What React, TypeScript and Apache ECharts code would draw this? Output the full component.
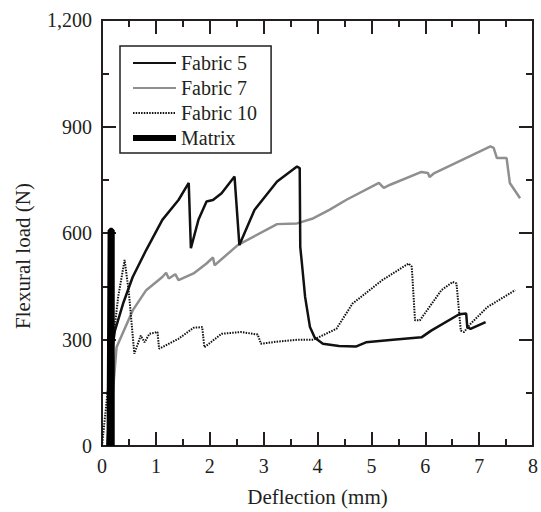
import React, { useEffect, useRef } from "react";
import * as echarts from "echarts";

const seriesNames = ["Fabric 5", "Fabric 7", "Fabric 10", "Matrix"];

const fabric5: [number, number][] = [
  [0.1, 0], [0.2, 285], [0.24, 325], [0.4, 405], [0.57, 476], [0.82, 552], [1.12, 637],
  [1.42, 693], [1.61, 741], [1.65, 557], [1.79, 637], [1.94, 689], [2.06, 693],
  [2.22, 712], [2.46, 759], [2.55, 566], [2.83, 665], [3.25, 745], [3.62, 787],
  [3.67, 783], [3.68, 561], [3.72, 500], [3.77, 420], [3.86, 335], [3.95, 305],
  [4.1, 288], [4.4, 282], [4.71, 280], [4.9, 292], [5.4, 299], [5.93, 306],
  [6.11, 325], [6.63, 371], [6.76, 373], [6.78, 335], [6.84, 330], [7.12, 349],
];

const fabric7: [number, number][] = [
  [0.12, 0], [0.27, 278], [0.57, 382], [0.82, 439], [1.12, 476], [1.19, 488],
  [1.24, 472], [1.36, 484], [1.42, 467], [1.7, 486], [1.94, 514], [2.06, 531],
  [2.09, 509], [2.52, 566], [3.25, 625], [3.62, 627], [3.9, 640], [4.22, 665],
  [4.53, 693], [5.14, 741], [5.23, 727], [5.35, 736], [5.93, 772], [6.05, 769],
  [6.08, 758], [6.17, 769], [7.21, 844], [7.27, 840], [7.33, 811], [7.51, 811],
  [7.57, 741], [7.76, 698],
];

const fabric10: [number, number][] = [
  [0, 0], [0.15, 220], [0.3, 420], [0.42, 524], [0.5, 430], [0.6, 260], [0.72, 311],
  [0.79, 292], [0.88, 316], [1.03, 321], [1.06, 274], [1.42, 302], [1.7, 333],
  [1.86, 335], [1.9, 278], [2.22, 316], [2.58, 321], [2.89, 314], [2.95, 288],
  [3.25, 294], [3.62, 299], [3.92, 299], [4.35, 330], [4.65, 401], [5.2, 467],
  [5.69, 514], [5.75, 505], [5.81, 354], [5.9, 354], [6.3, 439], [6.51, 462],
  [6.58, 458], [6.66, 325], [6.72, 321], [6.84, 344], [7.15, 391], [7.67, 439],
];

const matrix: [number, number][] = [
  [0.13, 0], [0.15, 608], [0.19, 608], [0.19, 0],
];

const FONT = "Liberation Serif";
const INK = "#231f20";

const mkAxisParts = () => ({
  axisLine: { show: true, onZero: false, lineStyle: { color: INK, width: 2 } },
  axisTick: { show: true, inside: true, length: 14, lineStyle: { color: INK, width: 2 } },
  minorTick: { show: true, splitNumber: 2, length: 7, lineStyle: { color: INK, width: 2 } },
  splitLine: { show: false },
});

const mkLabel = () => ({ fontFamily: FONT, fontSize: 20, color: INK, margin: 10 });

export default function App() {
  const ref = useRef<HTMLDivElement>(null);
  useEffect(() => {
    if (!ref.current) return;
    const chart = echarts.init(ref.current, undefined, { renderer: "svg" });
    chart.setOption({
      animation: false,
      backgroundColor: "#fff",
      textStyle: { fontFamily: FONT, color: INK },
      grid: { left: 102, right: 1, top: 20, bottom: 66, show: true, borderColor: INK, borderWidth: 2, backgroundColor: "transparent" },
      legend: {
        orient: "vertical",
        left: 120,
        top: 46,
        data: [
          { name: seriesNames[0] },
          { name: seriesNames[1] },
          { name: seriesNames[2] },
          { name: seriesNames[3], lineStyle: { width: 6 } },
        ],
        itemWidth: 43,
        itemHeight: 12,
        itemGap: 5,
        padding: [7, 14, 5, 10],
        borderColor: INK,
        borderWidth: 1.5,
        itemStyle: { opacity: 0 },
        textStyle: { fontFamily: FONT, fontSize: 20, color: INK },
      },
      graphic: [
        {
          type: "text",
          left: 12,
          top: "middle",
          rotation: Math.PI / 2,
          style: { text: "Flexural load (N)", font: "21px 'Liberation Serif'", fill: INK },
        },
      ],
      xAxis: [
        {
          type: "value",
          position: "bottom",
          min: 0,
          max: 8,
          interval: 1,
          name: "Deflection (mm)",
          nameLocation: "middle",
          nameGap: 40,
          nameTextStyle: { fontFamily: FONT, fontSize: 21, color: INK },
          ...mkAxisParts(),
          axisLabel: mkLabel(),
        },
        {
          type: "value",
          position: "top",
          min: 0,
          max: 8,
          interval: 1,
          ...mkAxisParts(),
          axisLabel: { show: false },
        },
      ],
      yAxis: [
        {
          type: "value",
          position: "left",
          min: 0,
          max: 1200,
          interval: 300,
          ...mkAxisParts(),
          axisLabel: { ...mkLabel(), formatter: (v: number) => v.toLocaleString("en-US") },
        },
        {
          type: "value",
          position: "right",
          min: 0,
          max: 1200,
          interval: 300,
          ...mkAxisParts(),
          axisLabel: { show: false },
        },
      ],
      series: [
        {
          name: seriesNames[1],
          type: "line",
          data: fabric7,
          showSymbol: false,
          symbol: "none",
          lineStyle: { color: "#8f8f8f", width: 2.5 },
        },
        {
          name: seriesNames[2],
          type: "line",
          data: fabric10,
          showSymbol: false,
          symbol: "none",
          lineStyle: { color: "#111", width: 2, type: [1.5, 1.2] },
        },
        {
          name: seriesNames[0],
          type: "line",
          data: fabric5,
          showSymbol: false,
          symbol: "none",
          lineStyle: { color: "#111", width: 2.5 },
        },
        {
          name: seriesNames[3],
          type: "line",
          data: matrix,
          showSymbol: false,
          symbol: "none",
          lineStyle: { color: "#000", width: 5 },
        },
      ],
    });
    return () => chart.dispose();
  }, []);
  return <div ref={ref} style={{ width: 541, height: 512, position: "absolute", left: 0, top: 0 }} />;
}
